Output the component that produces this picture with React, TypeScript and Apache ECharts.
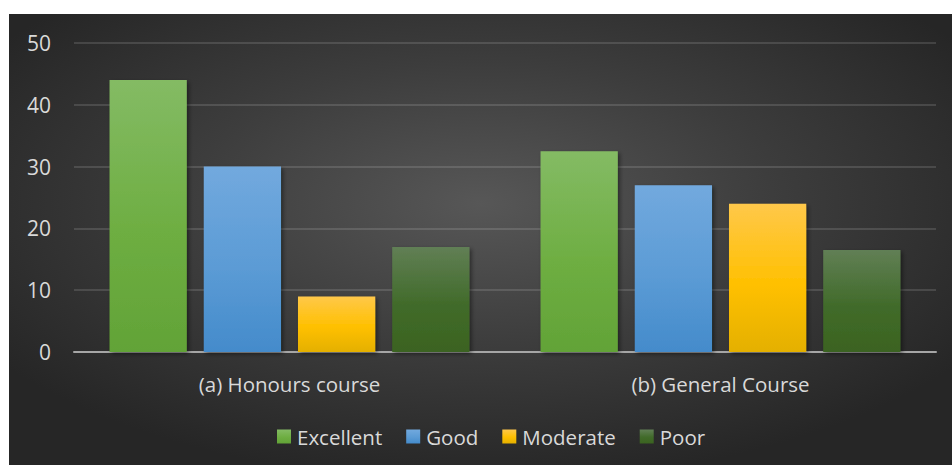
import React, { useEffect, useRef } from "react";
import * as echarts from "echarts";

const categories = ["(a) Honours course", "(b) General Course"];
const seriesNames = ["Excellent", "Good", "Moderate", "Poor"];
const excellent = [44, 32.5];
const good = [30, 27];
const moderate = [9, 24];
const poor = [17, 16.5];
const yTicks = { min: 0, max: 50, interval: 10 };

const grads: [string, string, string][] = [
  ["#84bb64", "#6eae42", "#62a337"],
  ["#72a9de", "#5b9bd5", "#448bcb"],
  ["#ffc84a", "#ffc000", "#e4b000"],
  ["#617f55", "#416b2a", "#3b6320"],
];

function grad(c: [string, string, string]) {
  return new echarts.graphic.LinearGradient(0, 0, 0, 1, [
    { offset: 0, color: c[0] },
    { offset: 0.55, color: c[1] },
    { offset: 1, color: c[2] },
  ]);
}

export default function App() {
  const ref = useRef<HTMLDivElement>(null);
  useEffect(() => {
    if (!ref.current) return;
    const chart = echarts.init(ref.current, null, { renderer: "svg" });
    const data = [excellent, good, moderate, poor];
    chart.setOption({
      animation: false,
      backgroundColor: "#ffffff",
      textStyle: { fontFamily: "Open Sans" },
      graphic: [
        {
          type: "rect",
          z: -10,
          silent: true,
          shape: { x: 9, y: 14, width: 943, height: 451 },
          style: {
            fill: new echarts.graphic.RadialGradient(0.5, 0.42, 0.62, [
              { offset: 0, color: "#575757" },
              { offset: 0.5, color: "#3d3d3d" },
              { offset: 1, color: "#262626" },
            ]),
          },
        },
      ],
      grid: { left: 74, right: 16, top: 43, bottom: 113 },
      legend: {
        data: seriesNames,
        top: 421,
        left: 272,
        itemWidth: 14,
        itemHeight: 14,
        itemGap: 24,
        icon: "rect",
        textStyle: { color: "#d9d9d9", fontSize: 20.5, fontFamily: "Open Sans", padding: [0, 0, 0, 1] },
      },
      xAxis: {
        type: "category",
        data: categories,
        axisLine: { lineStyle: { color: "#a6a6a6", width: 2 } },
        axisTick: { show: false },
        axisLabel: { color: "#d9d9d9", fontSize: 20.5, margin: 21, fontFamily: "Open Sans" },
      },
      yAxis: {
        type: "value",
        min: yTicks.min,
        max: yTicks.max,
        interval: yTicks.interval,
        axisLine: { show: false },
        axisTick: { show: false },
        axisLabel: { color: "#d9d9d9", fontSize: 21, margin: 23, fontFamily: "Open Sans" },
        splitLine: { lineStyle: { color: "rgba(255,255,255,0.13)", width: 2 } },
      },
      series: seriesNames.map((name, i) => ({
        name,
        type: "bar",
        data: data[i],
        barGap: "22%",
        barCategoryGap: "16.5%",
        itemStyle: {
          color: grad(grads[i]),
          shadowColor: "rgba(0,0,0,0.45)",
          shadowBlur: 4,
          shadowOffsetX: 2,
          shadowOffsetY: 2,
        },
      })),
    });
    return () => chart.dispose();
  }, []);
  return (
    <div
      ref={ref}
      style={{ position: "absolute", left: 0, top: 0, width: 952, height: 465 }}
    />
  );
}
